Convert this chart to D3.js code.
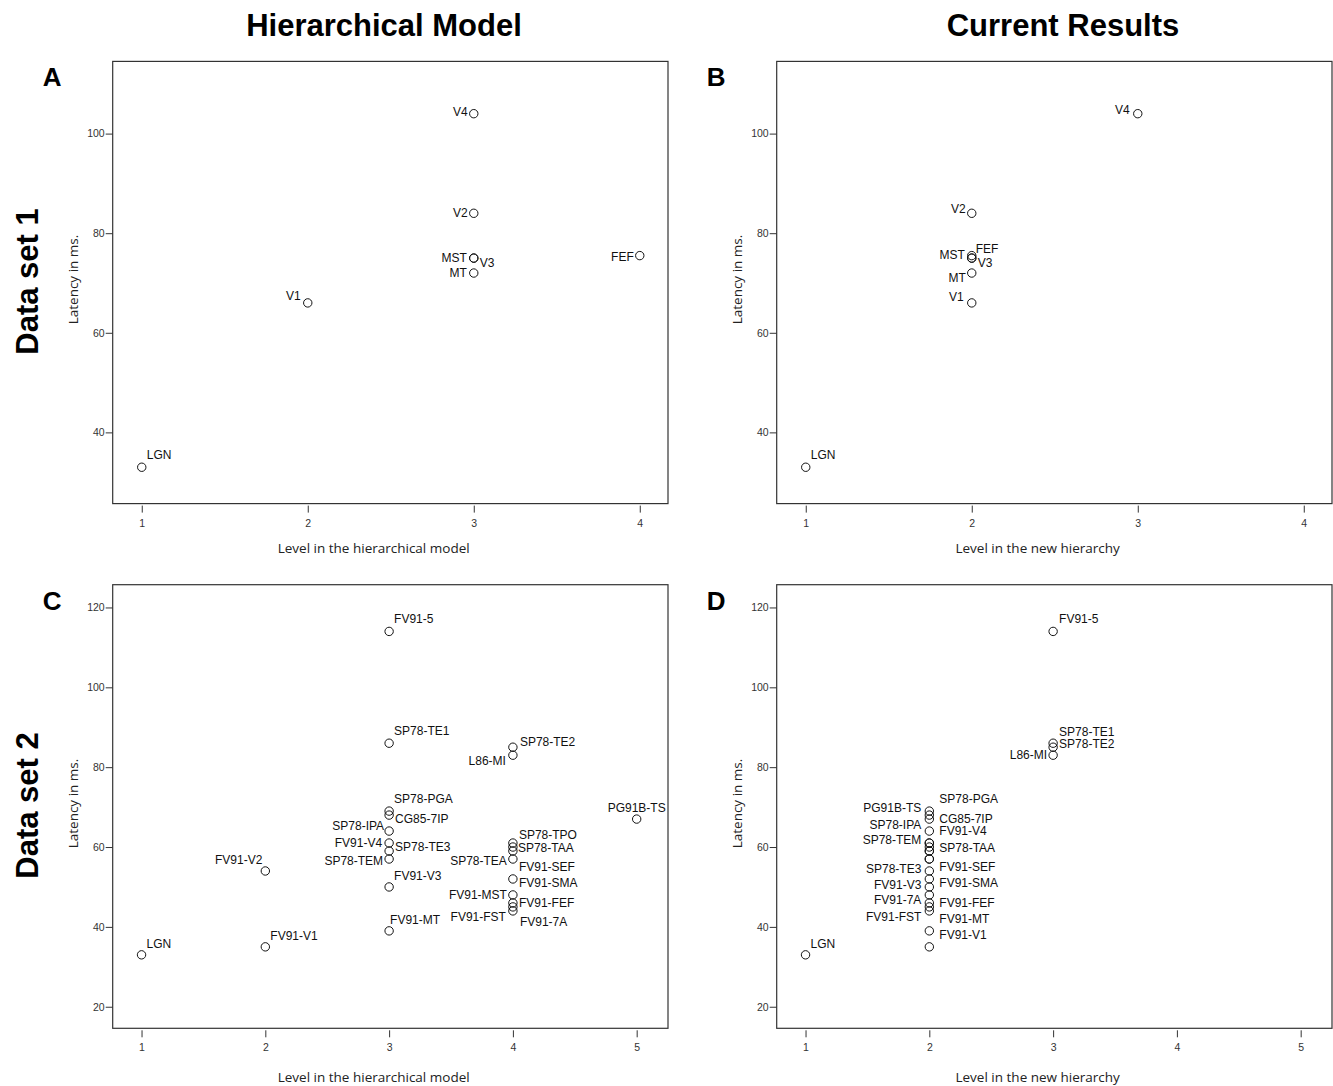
<!DOCTYPE html>
<html>
<head>
<meta charset="utf-8">
<script src="https://cdn.jsdelivr.net/npm/d3@7"></script>
<style>
  body { margin: 0; background: #fff; }
  svg text { font-family: "Liberation Sans", Arial, sans-serif; }
  .tick text { font-size: 10.5px; fill: #333; }
  .tick line { stroke: #333; }
  .ptlabel { font-size: 12px; fill: #111; }
  .axtitle { font-family: "Open Sans", sans-serif !important; font-size: 13.5px; fill: #222; }
</style>
</head>
<body>
<svg id="fig" width="1333" height="1086"></svg>
<script>
// data set 1: visual areas, latency (ms), level in each hierarchy
const set1Areas   = ["LGN", "V1", "V2", "V3", "V4", "MT", "MST", "FEF"];
const set1Latency = [33, 66, 84, 75, 104, 72, 75, 75.5];
const set1Hier    = [1, 2, 3, 3, 3, 3, 3, 4];
const set1New     = [1, 2, 2, 2, 3, 2, 2, 2];

// data set 2
const set2Areas = ["LGN", "FV91-V1", "FV91-V2", "FV91-5", "SP78-TE1", "SP78-PGA", "CG85-7IP",
  "SP78-IPA", "FV91-V4", "SP78-TE3", "SP78-TEM", "FV91-V3", "FV91-MT", "SP78-TE2", "L86-MI",
  "SP78-TPO", "SP78-TAA", "SP78-TEA", "FV91-SEF", "FV91-SMA", "FV91-MST", "FV91-FEF",
  "FV91-FST", "FV91-7A", "PG91B-TS"];
const set2Latency = [33, 35, 54, 114, 86, 69, 68, 64, 61, 59, 57, 50, 39, 85, 83,
  61, 60, 57, 59, 52, 48, 46, 45, 44, 67];
const set2Hier = [1, 2, 2, 3, 3, 3, 3, 3, 3, 3, 3, 3, 3, 4, 4, 4, 4, 4, 4, 4, 4, 4, 4, 4, 5];
const set2New  = [1, 2, 2, 3, 3, 2, 2, 2, 2, 2, 2, 2, 2, 3, 3, 2, 2, 2, 2, 2, 2, 2, 2, 2, 2];

const ticks1Y = [40, 60, 80, 100];
const ticks2Y = [20, 40, 60, 80, 100, 120];
const ticks1X = [1, 2, 3, 4];
const ticks2X = [1, 2, 3, 4, 5];

// label placement: [dx, dy] from the circle centre (dy = baseline), "m" = centred text
// a label missing from a panel's map is not drawn (SPSS dropped overlapping ones)
const placeA = {
  LGN: [5, -8], V1: [-7, -3], V2: [-6, 4], V4: [-6, 2], MST: [-7, 4],
  MT: [-7, 4], V3: [6, 9], FEF: [-6, 5]
};
const placeB = {
  LGN: [5, -8], V4: [-8, 0], V2: [-6, 0], MST: [-7, 1], FEF: [4, -3],
  V3: [6, 9], MT: [-6, 9], V1: [-8, -2]
};
const placeC = {
  "LGN": [5, -7], "FV91-V1": [5, -7], "FV91-V2": [-3, -7], "FV91-5": [5, -8],
  "SP78-TE1": [5, -8], "SP78-PGA": [5, -8], "CG85-7IP": [6, 8], "SP78-IPA": [-5, -1],
  "FV91-V4": [-7, 4], "SP78-TE3": [6, 0], "SP78-TEM": [-6, 6], "FV91-V3": [5, -7],
  "FV91-MT": [1, -7], "SP78-TE2": [7, -1], "L86-MI": [-7, 10], "PG91B-TS": [0, -7, "m"],
  "SP78-TPO": [6, -4], "SP78-TAA": [5, 5], "SP78-TEA": [-6, 6], "FV91-SEF": [6, 20],
  "FV91-SMA": [6, 8], "FV91-MST": [-6, 4], "FV91-FEF": [6, 4], "FV91-FST": [-7, 14],
  "FV91-7A": [7, 15]
};
const placeD = {
  "LGN": [5, -7], "FV91-5": [6, -8], "SP78-TE1": [6, -7], "SP78-TE2": [6, 1], "L86-MI": [-6, 4],
  "SP78-PGA": [10, -8], "CG85-7IP": [10, 8], "FV91-V4": [10, -8], "SP78-TAA": [10, 5],
  "FV91-SEF": [10, 20], "FV91-SMA": [10, 8], "FV91-FEF": [10, 4], "FV91-MT": [10, -8],
  "FV91-V1": [10, -8], "PG91B-TS": [-8, -7], "SP78-IPA": [-8, -2], "SP78-TEM": [-8, -15],
  "SP78-TE3": [-8, 22], "FV91-V3": [-8, 2], "FV91-7A": [-8, -7], "FV91-FST": [-8, 14]
};

const svg = d3.select("#fig");

function drawPanel(p) {
  const g = svg.append("g");
  const x = d3.scaleLinear().domain(p.xDomain).range([p.left, p.right]);
  const y = d3.scaleLinear().domain(p.yDomain).range([p.bottom, p.top]);

  g.append("rect")
    .attr("x", p.left).attr("y", p.top)
    .attr("width", p.right - p.left).attr("height", p.bottom - p.top)
    .attr("fill", "none").attr("stroke", "#333").attr("stroke-width", 1.2);

  const yAx = g.append("g")
    .attr("transform", `translate(${p.left},0)`)
    .call(d3.axisLeft(y).tickValues(p.yTicks).tickSize(7).tickPadding(1).tickFormat(d3.format("d")));
  yAx.select(".domain").remove();

  const xAx = g.append("g")
    .attr("transform", `translate(0,${p.bottom + 2})`)
    .call(d3.axisBottom(x).tickValues(p.xTicks).tickSize(7).tickPadding(6.5).tickFormat(d3.format("d")));
  xAx.select(".domain").remove();

  g.append("text").attr("class", "axtitle")
    .attr("x", p.left + 0.47 * (p.right - p.left)).attr("y", p.bottom + p.titleGap)
    .attr("text-anchor", "middle").text(p.xTitle);

  const cy = (p.top + p.bottom) / 2 - 3;
  g.append("text").attr("class", "axtitle")
    .attr("transform", `translate(${p.left - 35},${cy}) rotate(-90)`)
    .attr("text-anchor", "middle").text("Latency in ms.");

  g.append("text")
    .attr("x", p.left - 70).attr("y", p.top + 25)
    .attr("font-size", 26).attr("font-weight", "bold").text(p.letter);

  p.areas.forEach((a, i) => {
    const px = x(p.level[i]), py = y(p.latency[i]);
    g.append("circle")
      .attr("cx", px).attr("cy", py).attr("r", 4.2)
      .attr("fill", "none").attr("stroke", "#111").attr("stroke-width", 1);
    const pl = p.place[a];
    if (!pl) return;
    g.append("text").attr("class", "ptlabel")
      .attr("x", px + pl[0]).attr("y", py + pl[1])
      .attr("text-anchor", pl[2] === "m" ? "middle" : (pl[0] >= 0 ? "start" : "end"))
      .text(a);
  });
}

const rowTop = [61.4, 584.7], rowBottom = [503.6, 1028.3];
const colLeft = [112.7, 776.7], colRight = [668, 1332];

drawPanel({ letter: "A", left: colLeft[0], right: colRight[0], top: rowTop[0], bottom: rowBottom[0],
  xDomain: [0.825, 4.17], yDomain: [25.7, 114.5], xTicks: ticks1X, yTicks: ticks1Y,
  areas: set1Areas, latency: set1Latency, level: set1Hier, place: placeA,
  xTitle: "Level in the hierarchical model", titleGap: 49 });
drawPanel({ letter: "B", left: colLeft[1], right: colRight[1], top: rowTop[0], bottom: rowBottom[0],
  xDomain: [0.825, 4.17], yDomain: [25.7, 114.5], xTicks: ticks1X, yTicks: ticks1Y,
  areas: set1Areas, latency: set1Latency, level: set1New, place: placeB,
  xTitle: "Level in the new hierarchy", titleGap: 49 });
drawPanel({ letter: "C", left: colLeft[0], right: colRight[0], top: rowTop[1], bottom: rowBottom[1],
  xDomain: [0.767, 5.253], yDomain: [14.6, 125.7], xTicks: ticks2X, yTicks: ticks2Y,
  areas: set2Areas, latency: set2Latency, level: set2Hier, place: placeC,
  xTitle: "Level in the hierarchical model", titleGap: 54 });
drawPanel({ letter: "D", left: colLeft[1], right: colRight[1], top: rowTop[1], bottom: rowBottom[1],
  xDomain: [0.767, 5.253], yDomain: [14.6, 125.7], xTicks: ticks2X, yTicks: ticks2Y,
  areas: set2Areas, latency: set2Latency, level: set2New, place: placeD,
  xTitle: "Level in the new hierarchy", titleGap: 54 });

// column and row headings
const colTitles = ["Hierarchical Model", "Current Results"];
const rowTitles = ["Data set 1", "Data set 2"];
colTitles.forEach((t, i) => {
  svg.append("text")
    .attr("x", i === 0 ? 384 : 1063).attr("y", 36)
    .attr("text-anchor", "middle").attr("font-size", 31).attr("font-weight", "bold")
    .text(t);
});
rowTitles.forEach((t, i) => {
  const cy = (rowTop[i] + rowBottom[i]) / 2 - 1;
  svg.append("text")
    .attr("transform", `translate(38,${cy}) rotate(-90)`)
    .attr("text-anchor", "middle").attr("font-size", 31).attr("font-weight", "bold")
    .text(t);
});
</script>
</body>
</html>
